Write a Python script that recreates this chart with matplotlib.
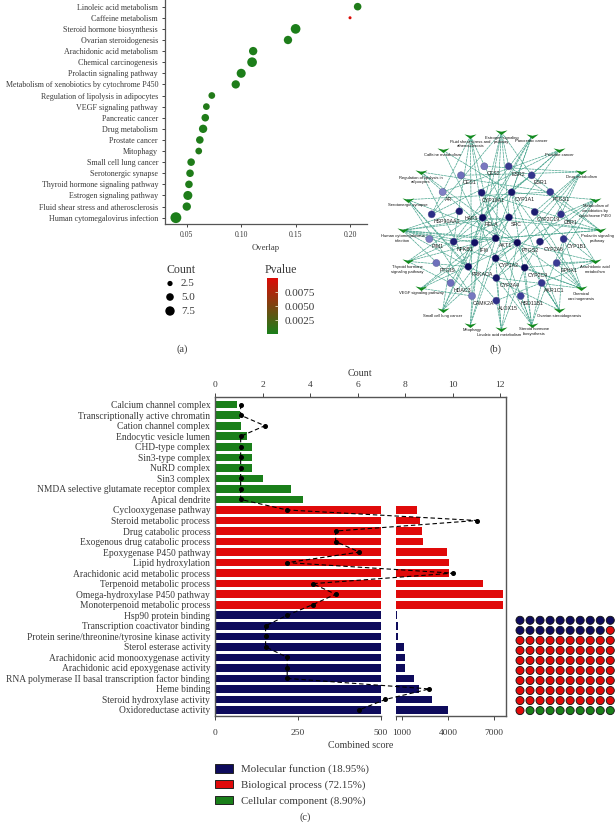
import numpy as np
import matplotlib
matplotlib.use("Agg")
import matplotlib.pyplot as plt
from matplotlib.colors import LinearSegmentedColormap, Normalize
from matplotlib.cm import ScalarMappable
from matplotlib.patches import Patch

plt.rcParams['font.family'] = ['Liberation Serif', 'DejaVu Serif']
plt.rcParams['text.color'] = '#3a3a3a'
plt.rcParams['axes.labelcolor'] = '#3a3a3a'
plt.rcParams['xtick.labelcolor'] = '#3a3a3a'
plt.rcParams['ytick.labelcolor'] = '#3a3a3a'

W, H = 616, 822
NAVY, RED, GREEN = '#0e0b5c', '#e00a0a', '#1a7f1a'

# panel a
kegg_terms = ["Linoleic acid metabolism", "Caffeine metabolism", "Steroid hormone biosynthesis",
              "Ovarian steroidogenesis", "Arachidonic acid metabolism", "Chemical carcinogenesis",
              "Prolactin signaling pathway", "Metabolism of xenobiotics by cytochrome P450",
              "Regulation of lipolysis in adipocytes", "VEGF signaling pathway", "Pancreatic cancer",
              "Drug metabolism", "Prostate cancer", "Mitophagy", "Small cell lung cancer",
              "Serotonergic synapse", "Thyroid hormone signaling pathway", "Estrogen signaling pathway",
              "Fluid shear stress and atherosclerosis", "Human cytomegalovirus infection"]
kegg_overlap = [0.207, 0.200, 0.150, 0.143, 0.111, 0.110, 0.100, 0.095, 0.073, 0.068,
                0.067, 0.065, 0.062, 0.061, 0.054, 0.053, 0.052, 0.051, 0.050, 0.040]
kegg_count = [5, 1, 8, 6, 6, 8, 7, 6, 4, 4, 5, 6, 5, 4, 5, 5, 5, 7, 6, 10]
kegg_pvalue = [0.0003, 0.0099, 0.0001, 0.0002, 0.0002, 0.0001, 0.0001, 0.0002, 0.0004, 0.0004,
               0.0003, 0.0002, 0.0003, 0.0004, 0.0003, 0.0003, 0.0003, 0.0002, 0.0002, 0.0001]
legend_counts = [2.5, 5.0, 7.5]

# panel b
genes = ["CES2", "ESR2", "CES1", "ESR1", "AR", "CYP19A1", "CYP1A1", "PTGS1", "HSP90AA1", "HAP1",
         "RELA", "SRC", "CYP2C19", "CBR1", "PIM1", "NFKB1", "IFI6", "AKT1", "PTGS2", "CYP2A6",
         "CYP1B1", "PTGIS", "PRKACA", "CYP1A2", "CYP2C9", "EPHX1", "HDAC3", "CYP3A4", "AKR1C1",
         "CAMK2A", "ALOX15", "HSD11B1"]
gene_x = [373, 446, 303, 515, 248, 365, 455, 571, 215, 298, 368, 447, 524, 603, 208, 281, 344, 407,
          472, 540, 611, 229, 325, 407, 494, 590, 272, 409, 545, 336, 409, 482]
gene_y = [229, 229, 256, 256, 306, 308, 307, 306, 373, 364, 383, 382, 366, 373, 447, 455, 458, 445,
          458, 455, 447, 519, 530, 505, 533, 519, 579, 564, 579, 618, 632, 618]
gene_label_x = [400, 475, 330, 543, 267, 400, 493, 603, 262, 333, 395, 470, 566, 632, 234, 315, 373,
                437, 510, 580, 650, 262, 368, 445, 533, 626, 307, 449, 583, 371, 445, 517]
gene_label_y = [250, 252, 278, 279, 328, 330, 329, 328, 395, 386, 404, 404, 388, 396, 469, 477, 480,
                467, 481, 477, 469, 541, 552, 527, 555, 541, 601, 585, 601, 640, 654, 640]
gene_color = ['#7a78c0', '#3a3a90', '#6e6fbb', '#33358c', '#8080c4', '#1c1a70', '#171668', '#33368e',
              '#2c2e86', '#1b1a70', '#0f0d5e', '#100e60', '#1c1c70', '#2e3088', '#7a7bc0', '#1f1f74',
              '#131166', '#0c0a58', '#0c0a58', '#1e1e72', '#2f3088', '#6f70bc', '#0d0b5c', '#0e0c5c',
              '#0c0a58', '#3a3c94', '#6e6fbc', '#17166c', '#34378e', '#7678c0', '#2d2e88', '#3c3e98']

path_names = ["Estrogen signaling\npathway", "Fluid shear stress and\natherosclerosis", "Pancreatic cancer",
              "Caffeine metabolism", "Prostate cancer", "Regulation of lipolysis in\nadipocytes",
              "Drug metabolism", "Serotonergic synapse", "Metabolism of\nxenobiotics by\ncytochrome P450",
              "Human cytomegalovirus\ninfection", "Prolactin signaling\npathway", "Thyroid hormone\nsignaling pathway",
              "Arachidonic acid\nmetabolism", "VEGF signaling pathway", "Chemical\ncarcinogenesis",
              "Small cell lung cancer", "Ovarian steroidogenesis", "Mitophagy", "Steroid hormone\nbiosynthesis",
              "Linoleic acid metabolism"]
path_x = [424, 331, 515, 249, 598, 183, 663, 143, 705, 128, 720, 143, 705, 183, 664, 248, 598, 331, 515, 424]
path_y = [126, 138, 139, 181, 181, 246, 246, 329, 329, 421, 421, 514, 514, 595, 595, 660, 660, 704, 704, 718]
path_label_x = [424, 331, 515, 249, 598, 183, 663, 143, 706, 128, 712, 143, 705, 183, 664, 248, 598, 337, 522, 416]
path_label_y = [150, 162, 154, 196, 196, 270, 262, 345, 362, 445, 445, 538, 538, 610, 620, 677, 677, 720, 725, 735]
path_genes = [
    ["AKT1", "ESR1", "ESR2", "HSP90AA1", "PRKACA", "SRC", "CAMK2A"],
    ["AKT1", "RELA", "NFKB1", "SRC", "HSP90AA1", "CAMK2A"],
    ["AKT1", "RELA", "NFKB1", "HDAC3", "CYP1A1"],
    ["CYP1A2", "CYP1A1"],
    ["AKT1", "AR", "HSP90AA1", "RELA", "NFKB1"],
    ["AKT1", "PRKACA", "PTGS1", "PTGS2"],
    ["CYP1A2", "CYP2C9", "CYP2C19", "CYP3A4", "CBR1", "CES1", "CES2"],
    ["PTGS1", "PTGS2", "PRKACA", "ALOX15", "CAMK2A"],
    ["CYP1A1", "CYP1A2", "CYP1B1", "CYP3A4", "EPHX1", "CBR1"],
    ["AKT1", "RELA", "NFKB1", "SRC", "PTGS2", "PRKACA", "CAMK2A", "HAP1", "CYP2C9", "IFI6"],
    ["ESR1", "ESR2", "AKT1", "CYP19A1", "RELA", "SRC", "NFKB1"],
    ["AKT1", "ESR1", "HDAC3", "PRKACA", "SRC"],
    ["PTGS1", "PTGS2", "CYP2C9", "EPHX1", "ALOX15", "CYP2C19"],
    ["AKT1", "SRC", "PTGS2", "CAMK2A"],
    ["CYP1A1", "CYP1A2", "CYP1B1", "CYP2C9", "CYP2C19", "CYP3A4", "EPHX1", "PTGS2"],
    ["AKT1", "RELA", "NFKB1", "PTGS2", "IFI6"],
    ["CYP19A1", "CYP1A1", "CYP1B1", "PTGS2", "AKR1C1", "PRKACA"],
    ["AKT1", "RELA", "SRC", "CAMK2A"],
    ["CYP19A1", "CYP1A1", "CYP1A2", "CYP1B1", "CYP3A4", "AKR1C1", "HSD11B1", "CYP2C9"],
    ["CYP1A2", "CYP2C9", "CYP3A4", "ALOX15", "PTGS2"],
]

# panel c
go_terms = ["Calcium channel complex", "Transcriptionally active chromatin", "Cation channel complex",
            "Endocytic vesicle lumen", "CHD-type complex", "Sin3-type complex", "NuRD complex", "Sin3 complex",
            "NMDA selective glutamate receptor complex", "Apical dendrite", "Cyclooxygenase pathway",
            "Steroid metabolic process", "Drug catabolic process", "Exogenous drug catabolic process",
            "Epoxygenase P450 pathway", "Lipid hydroxylation", "Arachidonic acid metabolic process",
            "Terpenoid metabolic process", "Omega-hydroxylase P450 pathway", "Monoterpenoid metabolic process",
            "Hsp90 protein binding", "Transcription coactivator binding",
            "Protein serine/threonine/tyrosine kinase activity", "Sterol esterase activity",
            "Arachidonic acid monooxygenase activity", "Arachidonic acid epoxygenase activity",
            "RNA polymerase II basal transcription factor binding", "Heme binding",
            "Steroid hydroxylase activity", "Oxidoreductase activity"]
go_score = [66, 75, 79, 96, 113, 113, 113, 144, 230, 266,
            1959, 2174, 2285, 2390, 3955, 4085, 4085, 6303, 7569, 7608,
            654, 720, 720, 1111, 1196, 1196, 1802, 2128, 2977, 3981]
go_count = [1.08, 1.08, 2.1, 1.08, 1.08, 1.08, 1.08, 1.08, 1.08, 1.08,
            3.04, 11.03, 5.08, 5.08, 6.08, 3.04, 10.02, 4.11, 5.08, 4.11,
            3.04, 2.13, 2.13, 2.13, 3.04, 3.04, 3.04, 9.03, 7.17, 6.06]
go_class = [2] * 10 + [1] * 10 + [0] * 10
class_names = ["Molecular function (18.95%)", "Biological process (72.15%)", "Cellular component (8.90%)"]
class_colors = [NAVY, RED, GREEN]
waffle_counts = [19, 72, 9]


def ax_px(left, top, right, bottom, **kw):
    return fig.add_axes([left / W, 1 - bottom / H, (right - left) / W, (bottom - top) / H], **kw)


fig = plt.figure(figsize=(W / 100, H / 100), dpi=100)

# --- (a) dot plot
ax = ax_px(165, 0, 367, 224)
pcmap = LinearSegmentedColormap.from_list("p", [GREEN, '#dd0a06'])
pnorm = Normalize(0, 0.01)


def dot_size(c):
    d = np.sqrt(8 + 10.5 * (np.asarray(c, dtype=float) - 1))
    return (d * 0.72) ** 2 * 1.15


ypos = np.arange(len(kegg_terms))
ax.scatter(kegg_overlap, ypos, s=dot_size(kegg_count), c=kegg_pvalue, cmap=pcmap, norm=pnorm, linewidths=0)
ax.set_xlim(0.030, 0.2156)
ax.set_ylim(19.57, -0.6)
ax.set_yticks(ypos, kegg_terms, fontsize=5.8)
ax.set_xticks([0.05, 0.10, 0.15, 0.20], ["0.05", "0.10", "0.15", "0.20"], fontsize=5.6)
ax.tick_params(length=2, width=0.7, color='#444444', pad=3)
ax.set_xlabel("Overlap", fontsize=6.2, labelpad=4)
for s in ['top', 'right']:
    ax.spines[s].set_visible(False)
for s in ['left', 'bottom']:
    ax.spines[s].set_color('#555555')
    ax.spines[s].set_linewidth(0.9)

# count legend
lax = ax_px(160, 262, 215, 322)
lax.axis('off')
lax.set_xlim(160, 215)
lax.set_ylim(322, 262)
lax.scatter([170] * 3, [283.5, 297, 311], s=dot_size(legend_counts), c='black', linewidths=0)
for yy, c in zip([283.5, 297, 311], legend_counts):
    lax.text(181, yy, f"{c:.1f}", fontsize=8, va='center')
fig.text(181 / W, 1 - 270 / H, "Count", fontsize=8.6, ha='center', va='center')
fig.text(281 / W, 1 - 270 / H, "Pvalue", fontsize=8.6, ha='center', va='center')

# p value colour bar
cax = ax_px(266.7, 278, 277.5, 337)
cb = fig.colorbar(ScalarMappable(norm=pnorm, cmap=pcmap), cax=cax, ticks=[0.0025, 0.005, 0.0075])
cax.set_ylim(-0.0005, 0.01)
cb.outline.set_visible(False)
cb.ax.set_yticklabels(["0.0025", "0.0050", "0.0075"], fontsize=8)
cb.ax.tick_params(direction='in', length=2.5, width=0.6, color='#e8e0c0', pad=5)

# --- (b) network
net = ax_px(360, 90, 616, 350)
net.patch.set_alpha(0)
net.axis('off')
net.set_xlim(0, 768)
net.set_ylim(780, 0)
for px, py, members in zip(path_x, path_y, path_genes):
    for g in members:
        i = genes.index(g)
        net.plot([px, gene_x[i]], [py, gene_y[i]], color='#4aa58f', lw=0.5, ls=(0, (4, 0.8)), zorder=1)
chevron = [(-1, 0.35), (0, 0.12), (1, 0.35), (0, -0.42), (-1, 0.35)]
net.scatter(path_x, path_y, marker=chevron, s=75, c='#128a1e', linewidths=0, zorder=3)
net.scatter(gene_x, gene_y, s=26, c=gene_color, edgecolors='#55558f', linewidths=0.3, zorder=3)
for x, y, t in zip(gene_label_x, gene_label_y, genes):
    net.text(x, y, t, fontsize=3.8, family='Liberation Sans', ha='center', va='center', color='#222222', zorder=4)
for x, y, t in zip(path_label_x, path_label_y, path_names):
    net.text(x, y, t, fontsize=3.0, family='Liberation Sans', ha='center', va='center', color='#111111',
             linespacing=1.3, zorder=4)

# --- (c) broken bars with count line
rows = np.arange(len(go_terms))
colors = [class_colors[k] for k in go_class]
left = ax_px(215, 396.7, 380.7, 716)
right = ax_px(395.7, 396.7, 505.7, 716)
for a in (left, right):
    a.barh(rows, go_score, height=0.72, color=colors, linewidth=0)
    a.set_ylim(29.57, -0.76)
    for s in ['top', 'left', 'right']:
        a.spines[s].set_visible(False)
    a.spines['bottom'].set_color('#555555')
    a.spines['bottom'].set_linewidth(1)
    a.tick_params(axis='x', length=3, width=0.7, color='#444444', labelsize=6.8, pad=6)
left.set_xlim(0, 500)
left.set_xticks([0, 250, 500], ["0", "250", "500"])
left.set_yticks(rows, go_terms, fontsize=6.85)
left.tick_params(axis='y', length=0, pad=3.5)
right.set_xlim(589, 7763)
right.set_xticks([589, 1000, 4000, 7000], ["", "1000", "4000", "7000"])
right.set_yticks([])
fig.text(360.5 / W, 1 - 745.5 / H, "Combined score", fontsize=7.2, ha='center', va='center')

top = ax_px(215, 396.7, 505.7, 716)
top.patch.set_alpha(0)
top.plot(go_count, rows, color='black', lw=0.8, ls=(0, (4, 2.5)), marker='o', ms=2.6)
top.set_xlim(0, 290.7 / 23.75)
top.set_ylim(29.57, -0.76)
top.xaxis.tick_top()
top.xaxis.set_label_position('top')
top.set_xticks([0, 2, 4, 6, 8, 10, 12])
top.set_yticks([])
top.tick_params(axis='x', length=3, width=0.7, color='#444444', labelsize=6.8, pad=2.5)
top.set_xlabel("Count", fontsize=7.2, labelpad=4)
top.spines['bottom'].set_visible(False)
for s in ['top', 'left', 'right']:
    top.spines[s].set_color('#555555')
    top.spines[s].set_linewidth(1)

# waffle
waffle = ax_px(515, 615.3, 616, 716)
waffle.axis('off')
waffle.set_xlim(-0.5, 9.57)
waffle.set_ylim(9.54, -0.5)
yy, xx = np.indices((10, 10))
waffle_colors = np.repeat(class_colors, waffle_counts)
waffle.scatter(xx.ravel(), yy.ravel(), s=34, c=waffle_colors, edgecolors='#111111', linewidths=0.6)

handles = [Patch(facecolor=c, edgecolor='#222222', linewidth=0.7) for c in class_colors]
fig.legend(handles, class_names, loc='upper left', bbox_to_anchor=(215 / W, 1 - 764 / H), frameon=False,
           fontsize=7.85, handlelength=1.66, handleheight=0.83, handletextpad=0.7, labelspacing=0.5,
           borderpad=0, borderaxespad=0)

fig.text(182 / W, 1 - 349 / H, "(a)", fontsize=7.5, ha='center', va='center')
fig.text(496 / W, 1 - 349 / H, "(b)", fontsize=7.5, ha='center', va='center')
fig.text(305 / W, 1 - 817 / H, "(c)", fontsize=7.5, ha='center', va='center')

fig.savefig("out.png", dpi=100)
